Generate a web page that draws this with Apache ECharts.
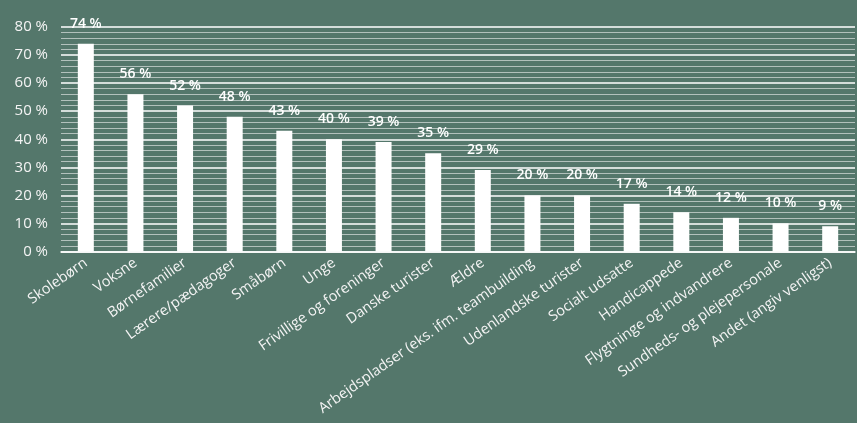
<!DOCTYPE html>
<html>
<head>
<meta charset="utf-8">
<script src="https://cdn.jsdelivr.net/npm/echarts@6/dist/echarts.min.js"></script>
<style>
html,body{margin:0;padding:0;background:#54776b;}
#c{width:857px;height:423px;}
</style>
</head>
<body>
<div id="c"></div>
<script>
var categories = ["Skolebørn","Voksne","Børnefamilier","Lærere/pædagoger","Småbørn","Unge","Frivillige og foreninger","Danske turister","Ældre","Arbejdspladser (eks. ifm. teambuilding","Udenlandske turister","Socialt udsatte","Handicappede","Flygtninge og indvandrere","Sundheds- og plejepersonale","Andet (angiv venligst)"];
var values = [74,56,52,48,43,40,39,35,29,20,20,17,14,12,10,9];
var yTicks = [0,10,20,30,40,50,60,70,80];

var font = "Open Sans, Liberation Sans, sans-serif";
var chart = echarts.init(document.getElementById('c'), null, {renderer:'canvas'});
chart.setOption({
  backgroundColor: '#54776b',
  animation: false,
  grid: {left: 61, right: 2, top: 27, bottom: 171.5, containLabel: false},
  xAxis: {
    type: 'category',
    data: categories,
    axisLine: {show: true, lineStyle: {color: '#ffffff', width: 1.5}},
    axisTick: {show: false},
    axisLabel: {color: '#f4f4f4', fontFamily: font, fontSize: 14.5, rotate: 35, interval: 0, margin: 10}
  },
  yAxis: {
    type: 'value',
    min: yTicks[0], max: yTicks[yTicks.length-1], interval: 10,
    axisLine: {show: false},
    axisTick: {show: false},
    axisLabel: {color: '#f4f4f4', fontFamily: font, fontSize: 15, margin: 13, formatter: function(v){return v + ' %';}},
    splitLine: {show: true, lineStyle: {color: '#ffffff', width: 1.5}},
    minorTick: {show: false, splitNumber: 5},
    minorSplitLine: {show: true, lineStyle: {color: 'rgba(255,255,255,0.55)', width: 1.2}}
  },
  series: [{
    type: 'bar',
    data: values,
    barWidth: 16,
    itemStyle: {color: '#ffffff'},
    label: {show: true, position: 'top', distance: 13, color: '#ffffff', fontFamily: font, fontSize: 14, fontWeight: 600, formatter: function(p){return p.value + ' %';}}
  }]
});
</script>
</body>
</html>
